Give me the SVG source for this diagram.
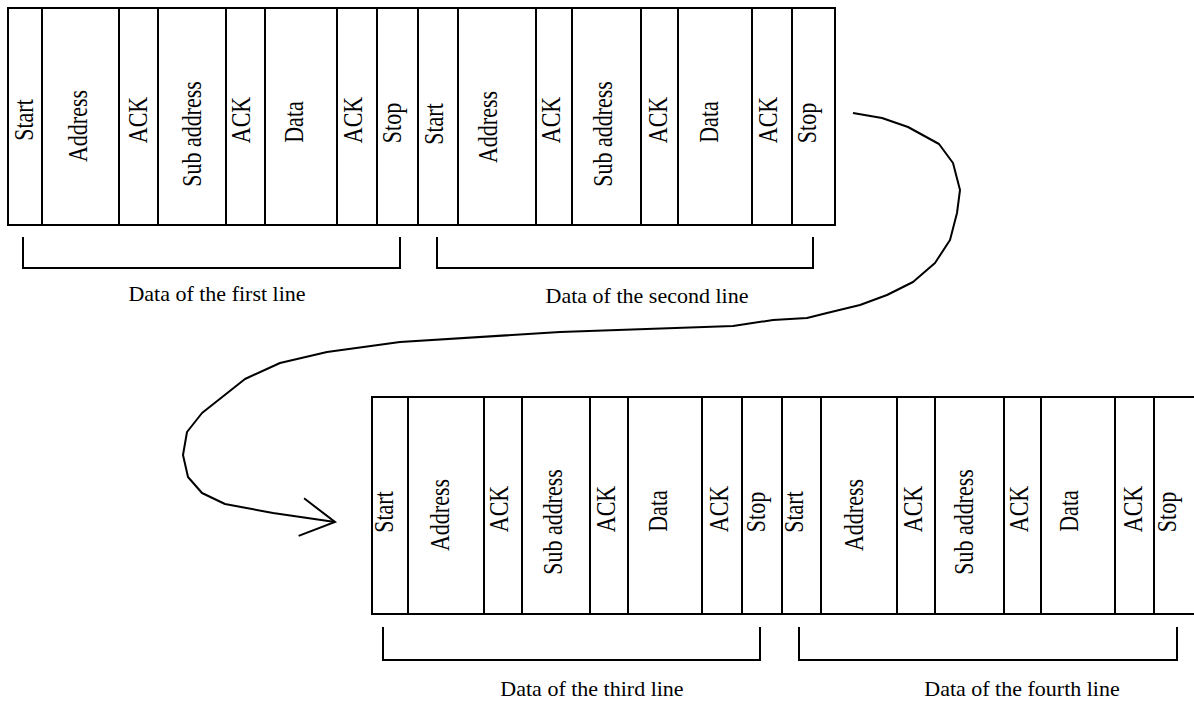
<svg xmlns="http://www.w3.org/2000/svg" width="1194" height="702" viewBox="0 0 1194 702">
<style>
.cell{fill:#fff;stroke:#000;stroke-width:2}
.lbl{font-family:"Liberation Serif","Times New Roman",serif;font-size:22px;fill:#000;text-anchor:middle}
.br{fill:none;stroke:#000;stroke-width:2}
.conn{fill:none;stroke:#000;stroke-width:2;stroke-linejoin:round}
</style>
<defs>
<marker id="open" markerUnits="userSpaceOnUse" markerWidth="50" markerHeight="50" viewBox="-40 -25 50 50" refX="0" refY="0" orient="auto">
<path d="M-34,-19 L0,0 L-34,19" fill="none" stroke="#000" stroke-width="2"/>
</marker>
</defs>
<rect width="1194" height="702" fill="#fff"/>

<g id="frame1">
<g id="f1-start"><rect class="cell" x="8" y="8" width="34" height="217"/><text class="lbl" transform="translate(33,120) rotate(-90) scale(1,1.2)">Start</text></g>
<g id="f1-address"><rect class="cell" x="42" y="8" width="77" height="217"/><text class="lbl" transform="translate(87,126) rotate(-90) scale(1,1.2)">Address</text></g>
<g id="f1-ack1"><rect class="cell" x="119" y="8" width="39" height="217"/><text class="lbl" transform="translate(147,120) rotate(-90) scale(1,1.2)">ACK</text></g>
<g id="f1-sub"><rect class="cell" x="158" y="8" width="68" height="217"/><text class="lbl" transform="translate(201,134) rotate(-90) scale(1,1.2)">Sub address</text></g>
<g id="f1-ack2"><rect class="cell" x="226" y="8" width="39" height="217"/><text class="lbl" transform="translate(250,120) rotate(-90) scale(1,1.2)">ACK</text></g>
<g id="f1-data"><rect class="cell" x="265" y="8" width="72" height="217"/><text class="lbl" transform="translate(303,122) rotate(-90) scale(1,1.2)">Data</text></g>
<g id="f1-ack3"><rect class="cell" x="337" y="8" width="40" height="217"/><text class="lbl" transform="translate(362,120) rotate(-90) scale(1,1.2)">ACK</text></g>
<g id="f1-stop"><rect class="cell" x="377" y="8" width="41" height="217"/><text class="lbl" transform="translate(401,123) rotate(-90) scale(1,1.2)">Stop</text></g>
</g>

<g id="frame2">
<g id="f2-start"><rect class="cell" x="418" y="8" width="40" height="217"/><text class="lbl" transform="translate(443,124) rotate(-90) scale(1,1.2)">Start</text></g>
<g id="f2-address"><rect class="cell" x="458" y="8" width="78" height="217"/><text class="lbl" transform="translate(497,127) rotate(-90) scale(1,1.2)">Address</text></g>
<g id="f2-ack1"><rect class="cell" x="536" y="8" width="36" height="217"/><text class="lbl" transform="translate(560,120) rotate(-90) scale(1,1.2)">ACK</text></g>
<g id="f2-sub"><rect class="cell" x="572" y="8" width="69" height="217"/><text class="lbl" transform="translate(612,134) rotate(-90) scale(1,1.2)">Sub address</text></g>
<g id="f2-ack2"><rect class="cell" x="641" y="8" width="37" height="217"/><text class="lbl" transform="translate(667,120) rotate(-90) scale(1,1.2)">ACK</text></g>
<g id="f2-data"><rect class="cell" x="678" y="8" width="74" height="217"/><text class="lbl" transform="translate(718,122) rotate(-90) scale(1,1.2)">Data</text></g>
<g id="f2-ack3"><rect class="cell" x="752" y="8" width="40" height="217"/><text class="lbl" transform="translate(777,120) rotate(-90) scale(1,1.2)">ACK</text></g>
<g id="f2-stop"><rect class="cell" x="792" y="8" width="43" height="217"/><text class="lbl" transform="translate(816,123) rotate(-90) scale(1,1.2)">Stop</text></g>
</g>

<g id="frame3">
<g id="f3-start"><rect class="cell" x="372" y="397" width="36" height="217"/><text class="lbl" transform="translate(393,512) rotate(-90) scale(1,1.2)">Start</text></g>
<g id="f3-address"><rect class="cell" x="408" y="397" width="76" height="217"/><text class="lbl" transform="translate(449,515) rotate(-90) scale(1,1.2)">Address</text></g>
<g id="f3-ack1"><rect class="cell" x="484" y="397" width="38" height="217"/><text class="lbl" transform="translate(508,509) rotate(-90) scale(1,1.2)">ACK</text></g>
<g id="f3-sub"><rect class="cell" x="522" y="397" width="68" height="217"/><text class="lbl" transform="translate(562,522) rotate(-90) scale(1,1.2)">Sub address</text></g>
<g id="f3-ack2"><rect class="cell" x="590" y="397" width="38" height="217"/><text class="lbl" transform="translate(615,509) rotate(-90) scale(1,1.2)">ACK</text></g>
<g id="f3-data"><rect class="cell" x="628" y="397" width="74" height="217"/><text class="lbl" transform="translate(667,511) rotate(-90) scale(1,1.2)">Data</text></g>
<g id="f3-ack3"><rect class="cell" x="702" y="397" width="40" height="217"/><text class="lbl" transform="translate(728,509) rotate(-90) scale(1,1.2)">ACK</text></g>
<g id="f3-stop"><rect class="cell" x="742" y="397" width="40" height="217"/><text class="lbl" transform="translate(765,512) rotate(-90) scale(1,1.2)">Stop</text></g>
</g>

<g id="frame4">
<g id="f4-start"><rect class="cell" x="782" y="397" width="39" height="217"/><text class="lbl" transform="translate(803,512) rotate(-90) scale(1,1.2)">Start</text></g>
<g id="f4-address"><rect class="cell" x="821" y="397" width="76" height="217"/><text class="lbl" transform="translate(863,515) rotate(-90) scale(1,1.2)">Address</text></g>
<g id="f4-ack1"><rect class="cell" x="897" y="397" width="38" height="217"/><text class="lbl" transform="translate(922,509) rotate(-90) scale(1,1.2)">ACK</text></g>
<g id="f4-sub"><rect class="cell" x="935" y="397" width="69" height="217"/><text class="lbl" transform="translate(973,522) rotate(-90) scale(1,1.2)">Sub address</text></g>
<g id="f4-ack2"><rect class="cell" x="1004" y="397" width="37" height="217"/><text class="lbl" transform="translate(1028,509) rotate(-90) scale(1,1.2)">ACK</text></g>
<g id="f4-data"><rect class="cell" x="1041" y="397" width="74" height="217"/><text class="lbl" transform="translate(1078,511) rotate(-90) scale(1,1.2)">Data</text></g>
<g id="f4-ack3"><rect class="cell" x="1115" y="397" width="39" height="217"/><text class="lbl" transform="translate(1142,509) rotate(-90) scale(1,1.2)">ACK</text></g>
<g id="f4-stop"><rect class="cell" x="1154" y="397" width="50" height="217"/><text class="lbl" transform="translate(1176,512) rotate(-90) scale(1,1.2)">Stop</text></g>
</g>

<g id="brace1"><path class="br" d="M23,237 V268 H400 V237"/><text class="lbl" x="217" y="301">Data of the first line</text></g>
<g id="brace2"><path class="br" d="M437,237 V268 H813 V237"/><text class="lbl" x="647" y="303">Data of the second line</text></g>
<g id="brace3"><path class="br" d="M383,627 V660 H760 V627"/><text class="lbl" x="592" y="696">Data of the third line</text></g>
<g id="brace4"><path class="br" d="M799,627 V660 H1177 V627"/><text class="lbl" x="1022" y="696">Data of the fourth line</text></g>

<g id="connectors">
<polyline class="conn" marker-end="url(#open)" points="853,113 882,118 908,127 939,144 953,163 960,190 957,213 950,240 935,263 913,282 887,295 860,305 827,313 807,318 773,320 733,326 560,332 400,342 327,352 280,363 245,379 202,413 187,432 183,455 188,477 202,493 225,504 273,513 335,522"/>
</g>
</svg>
